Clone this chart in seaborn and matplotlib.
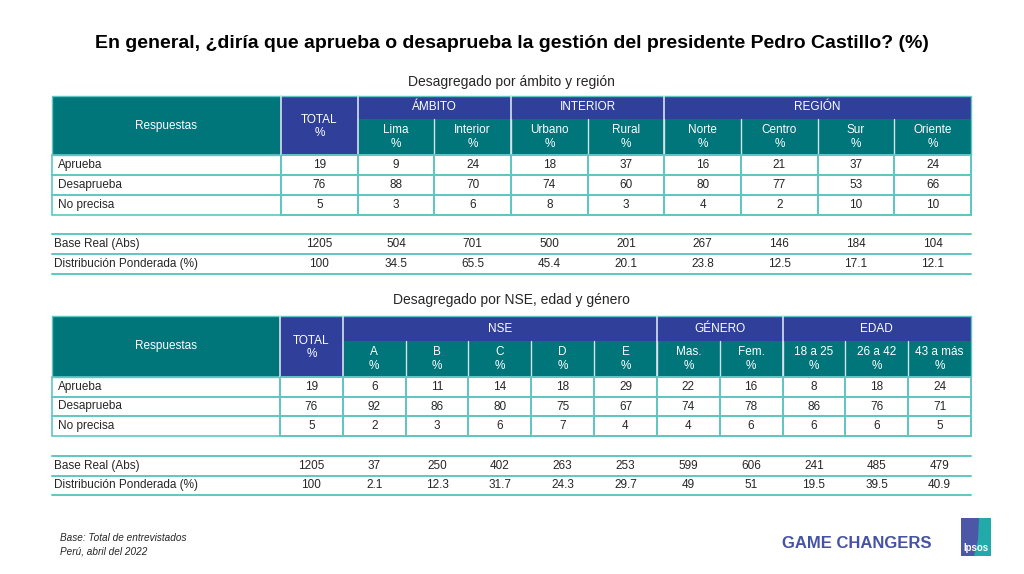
import matplotlib
matplotlib.use('Agg')
import matplotlib.pyplot as plt
from matplotlib.colors import ListedColormap
from matplotlib.patches import Rectangle, Polygon
import numpy as np
import pandas as pd
import seaborn as sns


TITLE = 'En general, ¿diría que aprueba o desaprueba la gestión del presidente Pedro Castillo? (%)'

respuestas = ['Aprueba', 'Desaprueba', 'No precisa']
base_labels = ['Base Real (Abs)', 'Distribución Ponderada (%)']

# tabla 1: ambito y region
t1_subtitle = 'Desagregado por ámbito y región'
t1_groups = ['ÁMBITO', 'INTERIOR', 'REGIÓN']
t1_group_span = [2, 2, 4]
t1_cols = ['Lima', 'Interior', 'Urbano', 'Rural', 'Norte', 'Centro', 'Sur', 'Oriente']
t1_aprueba = [19, 9, 24, 18, 37, 16, 21, 37, 24]
t1_desaprueba = [76, 88, 70, 74, 60, 80, 77, 53, 66]
t1_noprecisa = [5, 3, 6, 8, 3, 4, 2, 10, 10]
t1_base = [1205, 504, 701, 500, 201, 267, 146, 184, 104]
t1_dist = [100, 34.5, 65.5, 45.4, 20.1, 23.8, 12.5, 17.1, 12.1]

# tabla 2: NSE, genero y edad
t2_subtitle = 'Desagregado por NSE, edad y género'
t2_groups = ['NSE', 'GÉNERO', 'EDAD']
t2_group_span = [5, 2, 3]
t2_cols = ['A', 'B', 'C', 'D', 'E', 'Mas.', 'Fem.', '18 a 25', '26 a 42', '43 a más']
t2_aprueba = [19, 6, 11, 14, 18, 29, 22, 16, 8, 18, 24]
t2_desaprueba = [76, 92, 86, 80, 75, 67, 74, 78, 86, 76, 71]
t2_noprecisa = [5, 2, 3, 6, 7, 4, 4, 6, 6, 6, 5]
t2_base = [1205, 37, 250, 402, 263, 253, 599, 606, 241, 485, 479]
t2_dist = [100, 2.1, 12.3, 31.7, 24.3, 29.7, 49, 51, 19.5, 39.5, 40.9]

TEAL = '#00757a'
BLUE = '#30409a'
LINE = '#5fc6c2'
TXT = '#262626'
FS = 8.5
W, H = 1024, 574


def frac(x0, y0, x1, y1):
    return [x0 / W, 1 - y1 / H, (x1 - x0) / W, (y1 - y0) / H]


def clean(ax):
    ax.set_xticks([])
    ax.set_yticks([])
    ax.set_xlabel('')
    ax.set_ylabel('')


def draw_table(fig, bg, lay, subtitle, groups, spans, cols, rows, base, dist):
    x0, xn, x1 = lay['x0'], lay['xn'], lay['x1']
    yt, ys, yh, yr = lay['yt'], lay['ys'], lay['yh'], lay['yr']
    ncol = len(cols) + 1
    cw = (x1 - xn) / ncol

    bg.text((x0 + x1) / 2, lay['ysub'], subtitle, ha='center', va='center',
            fontsize=10, color=TXT)

    # cabecera
    bg.add_patch(Rectangle((x0, yt), xn - x0, yh - yt, color=TEAL, lw=0))
    bg.add_patch(Rectangle((xn, yt), cw, yh - yt, color=BLUE, lw=0))
    bg.add_patch(Rectangle((xn + cw, yt), x1 - xn - cw, ys - yt, color=BLUE, lw=0))
    bg.add_patch(Rectangle((xn + cw, ys), x1 - xn - cw, yh - ys, color=TEAL, lw=0))
    bg.text((x0 + xn) / 2, (yt + yh) / 2, 'Respuestas', ha='center', va='center',
            fontsize=FS, color='white')
    bg.text(xn + cw / 2, (yt + yh) / 2 + 1, 'TOTAL\n%', ha='center', va='center',
            fontsize=FS, color='white', linespacing=1.2)
    for i, c in enumerate(cols):
        cx = xn + cw * (i + 1.5)
        bg.text(cx, (ys + yh) / 2, c + '\n%', ha='center', va='center',
                fontsize=FS, color='white', linespacing=1.2)
        if i > 0:
            bg.plot([xn + cw * (i + 1)] * 2, [ys, yh], color='#cfe3e6', lw=1.0)
    start = 1
    for g, s in zip(groups, spans):
        gx0 = xn + cw * start
        bg.text(gx0 + cw * s / 2, (yt + ys) / 2, g, ha='center', va='center',
                fontsize=FS, color='white')
        bg.plot([gx0] * 2, [yt, yh], color='#d8e2ee', lw=1.2)
        start += s
    bg.plot([xn] * 2, [yt, yh], color='#d8e2ee', lw=1.2)
    bg.add_patch(Rectangle((x0, yt), x1 - x0, yh - yt, fill=False, ec=LINE, lw=1.0))

    # filas de respuestas
    rh = (yr - yh) / len(rows)
    for i, lab in enumerate(respuestas):
        bg.add_patch(Rectangle((x0, yh + i * rh), xn - x0, rh, fill=False, ec=LINE, lw=1.2))
        bg.text(x0 + 6, yh + (i + 0.5) * rh, lab, ha='left', va='center',
                fontsize=FS, color=TXT)
    ax = fig.add_axes(frac(xn, yh, x1, yr))
    df = pd.DataFrame(rows, index=respuestas)
    sns.heatmap(df, ax=ax, cmap=ListedColormap(['white']), cbar=False, annot=True,
                fmt='d', linewidths=1.2, linecolor=LINE,
                annot_kws={'fontsize': FS, 'color': TXT})
    ax.collections[0].set_clip_on(False)
    clean(ax)

    # base y distribucion
    yb0, yb2 = lay['yb0'], lay['yb2']
    bh = (yb2 - yb0) / 2
    for i, lab in enumerate(base_labels):
        bg.text(x0 + 2, yb0 + (i + 0.5) * bh, lab, ha='left', va='center',
                fontsize=FS, color=TXT)
        bg.plot([x0, x1], [yb0 + i * bh] * 2, color=LINE, lw=1.4)
    bg.plot([x0, x1], [yb2] * 2, color=LINE, lw=1.4)
    axb = fig.add_axes(frac(xn, yb0, x1, yb2))
    axb.patch.set_alpha(0)
    vals = [base, dist]
    labels = np.array([['{:g}'.format(v) for v in r] for r in vals])
    sns.heatmap(pd.DataFrame(vals, index=base_labels), ax=axb,
                cmap=ListedColormap([(1, 1, 1, 0)]), cbar=False, annot=labels, fmt='',
                linewidths=0, annot_kws={'fontsize': FS, 'color': TXT})
    clean(axb)


def main():
    sns.set_style('white')
    plt.rcParams['font.family'] = ['Liberation Sans', 'DejaVu Sans']
    fig = plt.figure(figsize=(W / 100, H / 100), dpi=100)
    bg = fig.add_axes([0, 0, 1, 1])
    bg.set_xlim(0, W)
    bg.set_ylim(H, 0)
    bg.set_axis_off()

    bg.text(512, 43, TITLE, ha='center', va='center', fontsize=14,
            fontweight='bold', color='black')

    lay1 = dict(x0=52, xn=281, x1=971, yt=96, ys=119, yh=155, yr=215, yb0=234, yb2=274, ysub=82)
    lay2 = dict(x0=52, xn=280, x1=971, yt=316, ys=341, yh=377, yr=436, yb0=456, yb2=495, ysub=300)
    draw_table(fig, bg, lay1, t1_subtitle, t1_groups, t1_group_span, t1_cols,
               [t1_aprueba, t1_desaprueba, t1_noprecisa], t1_base, t1_dist)
    draw_table(fig, bg, lay2, t2_subtitle, t2_groups, t2_group_span, t2_cols,
               [t2_aprueba, t2_desaprueba, t2_noprecisa], t2_base, t2_dist)

    # pie de pagina
    bg.text(60, 538, 'Base: Total de entrevistados', ha='left', va='center',
            fontsize=7.2, style='italic', color=TXT)
    bg.text(60, 551, 'Perú, abril del 2022', ha='left', va='center',
            fontsize=7.2, style='italic', color=TXT)
    bg.text(782, 543, 'GAME CHANGERS', ha='left', va='center', fontsize=12,
            fontweight='bold', color='#4653a5')

    # logo
    bg.add_patch(Rectangle((961, 518), 30, 38, color='#4d57a7', lw=0))
    bg.add_patch(Polygon([(979, 518), (991, 518), (991, 556), (974, 556), (978, 540)],
                         closed=True, color='#21aaa8', lw=0))
    bg.text(976, 548, 'Ipsos', ha='center', va='center', fontsize=7,
            fontweight='bold', color='white')

    fig.savefig('out.png', dpi=100)
    plt.close(fig)


if __name__ == '__main__':
    main()
